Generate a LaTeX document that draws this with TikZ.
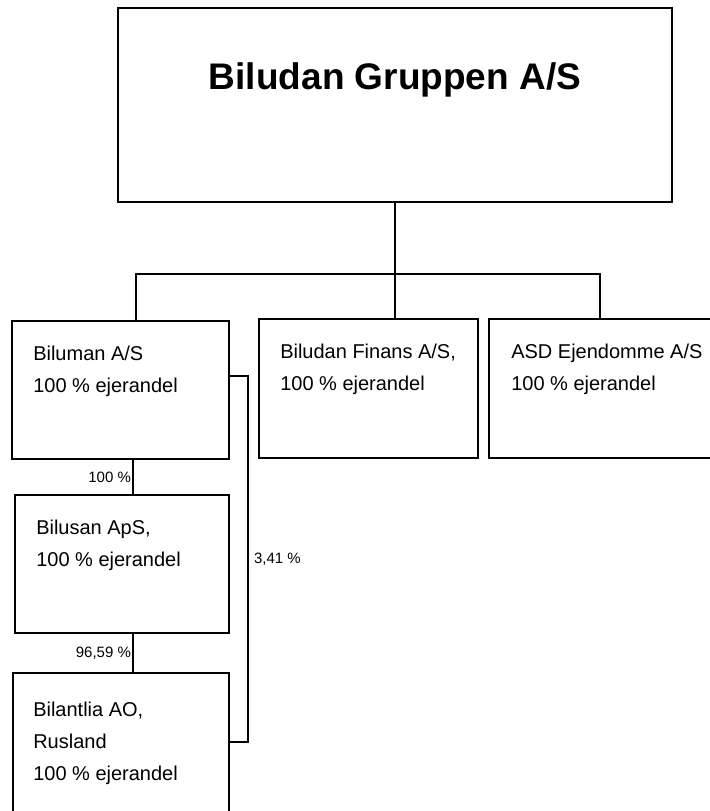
\documentclass[tikz,border=0pt]{standalone}
\usepackage{fontspec}
\setmainfont{Liberation Sans}
\usetikzlibrary{positioning,fit}

\begin{document}
\begin{tikzpicture}[
    x=0.75pt, y=-0.75pt,
    orgbox/.style={rectangle, draw, line width=1.1pt, inner sep=0pt},
    boxtext/.style={anchor=base west, align=left, inner sep=0pt, font=\fontsize{15}{24}\selectfont},
    titletext/.style={anchor=base, inner sep=0pt, font=\fontsize{27.75}{33}\selectfont\bfseries},
    pct/.style={inner sep=1pt, font=\fontsize{11.25}{13}\selectfont},
    link/.style={line width=1.1pt}
]
\useasboundingbox (0,0) rectangle (710,811);

% Parent company
\node[orgbox, fit={(118,8) (672,202)}] (gruppen) {};
\node[titletext] (gruppentxt) at (395,89) {Biludan Gruppen A/S};

% Subsidiaries
\node[orgbox, fit={(12,321) (229,459)}] (biluman) {};
\node[orgbox, fit={(259,319) (478,458)}] (finans) {};
\node[orgbox, fit={(489,319) (716,458)}] (asd) {};
\node[orgbox, fit={(15,495) (229,633)}] (bilusan) {};
\node[orgbox, fit={(13,673) (229,830)}] (bilantlia) {};

% Box texts (anchored at the baseline of the last line)
\node[boxtext] (bilumantxt) at (33,392) {Biluman A/S\\100 \% ejerandel};
\node[boxtext] (finanstxt) at (280,390) {Biludan Finans A/S,\\100 \% ejerandel};
\node[boxtext] (asdtxt) at (511,390) {ASD Ejendomme A/S\\100 \% ejerandel};
\node[boxtext] (bilusantxt) at (36,566) {Bilusan ApS,\\100 \% ejerandel};
\node[boxtext] (bilantliatxt) at (33,780) {Bilantlia AO,\\Rusland\\100 \% ejerandel};

% Helper coordinates
\coordinate (busleft) at (136,274);
\coordinate (busright) at (600,274);
\coordinate (stem) at (133,0);
\coordinate (brtop) at (248,376);
\coordinate (brbot) at (248,742);

% Connectors
\draw[link] (gruppen.south) -- (gruppen.south |- finans.north);
\draw[link] (busleft |- biluman.north) -- (busleft) -- (busright) -- (busright |- asd.north);
\draw[link] (biluman.south -| stem) -- node[pct, left] {100 \%} (bilusan.north -| stem);
\draw[link] (bilusan.south -| stem) -- node[pct, left] {96,59 \%} (bilantlia.north -| stem);
\draw[link] (biluman.east |- brtop) -- (brtop) -- node[pct, right, inner sep=4pt] {3,41 \%} (brbot) -- (bilantlia.east |- brbot);

\end{tikzpicture}
\end{document}
